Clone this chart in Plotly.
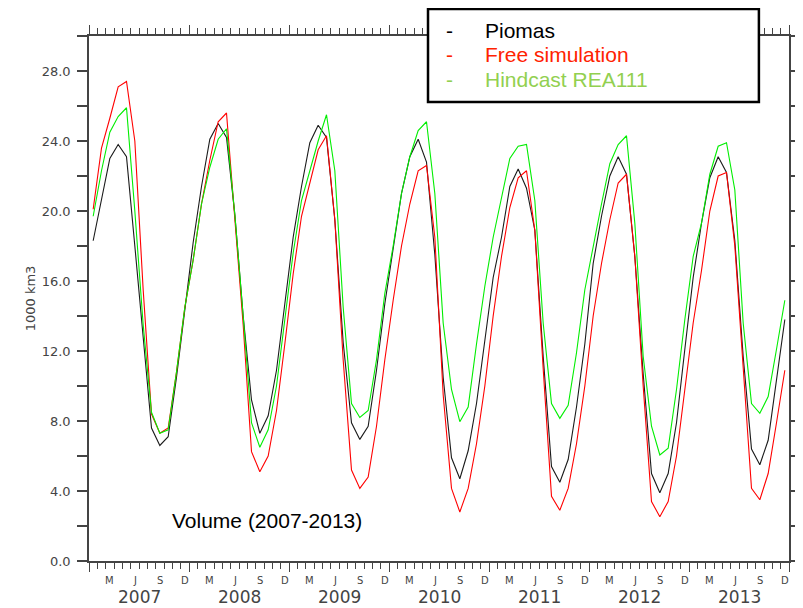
import plotly.graph_objects as go

# ---------------- data (monthly means, Jan 2007 .. Dec 2013), 1000 km3 ----------------
years = ["2007", "2008", "2009", "2010", "2011", "2012", "2013"]
month_letters = ["M", "J", "S", "D"]
y_tick_values = [0, 4, 8, 12, 16, 20, 24, 28]
y_tick_labels = ["0.0", "4.0", "8.0", "12.0", "16.0", "20.0", "24.0", "28.0"]

piomas = [
    18.3, 20.7, 23.0, 23.8, 23.1, 18.0, 13.0, 7.6, 6.6, 7.1, 10.5, 14.3,
    18.2, 21.4, 24.1, 25.0, 24.2, 19.8, 14.0, 9.2, 7.3, 8.3, 10.9, 14.7,
    18.5, 21.4, 23.9, 24.9, 24.2, 19.5, 12.5, 7.9, 6.95, 7.7, 10.9, 14.7,
    18.0, 21.0, 23.1, 24.1, 22.8, 17.5, 10.5, 5.9, 4.7, 6.3, 9.0, 12.6,
    16.2, 18.5, 21.4, 22.4, 21.3, 18.9, 11.7, 5.4, 4.5, 5.8, 8.8, 12.4,
    17.0, 19.7, 22.0, 23.1, 22.1, 17.4, 10.7, 5.0, 3.9, 5.0, 7.9, 12.1,
    16.2, 19.3, 21.9, 23.1, 22.2, 18.3, 11.7, 6.4, 5.5, 6.9, 10.2, 13.8,
]
free_sim = [
    20.1, 23.6, 25.3, 27.1, 27.4, 24.0, 15.5, 8.4, 7.3, 7.6, 10.8, 14.5,
    17.2, 20.4, 22.9, 25.1, 25.6, 19.8, 13.5, 6.25, 5.1, 6.0, 8.6, 12.4,
    16.4, 19.7, 21.6, 23.5, 24.3, 19.5, 11.5, 5.2, 4.15, 4.8, 7.7, 11.5,
    14.9, 18.0, 20.4, 22.3, 22.6, 18.5, 9.5, 4.15, 2.8, 4.15, 6.7, 10.0,
    14.0, 17.4, 20.2, 21.9, 22.3, 18.9, 11.0, 3.7, 2.9, 4.15, 6.7, 10.0,
    14.0, 17.0, 19.5, 21.6, 22.1, 17.4, 10.0, 3.4, 2.53, 3.4, 6.0, 9.8,
    13.6, 16.6, 20.0, 22.0, 22.2, 18.0, 11.0, 4.15, 3.5, 5.0, 7.9, 10.9,
]
hindcast = [
    19.7, 22.3, 24.5, 25.4, 25.9, 20.0, 13.5, 8.5, 7.3, 7.5, 10.8, 14.5,
    17.2, 20.4, 22.5, 24.1, 24.7, 19.8, 14.0, 7.9, 6.5, 7.5, 10.0, 13.8,
    17.6, 20.6, 22.3, 24.0, 25.5, 22.3, 14.5, 9.0, 8.2, 8.6, 11.5, 15.3,
    18.0, 21.0, 23.1, 24.6, 25.1, 21.0, 13.6, 9.8, 7.96, 8.8, 12.4, 15.7,
    18.5, 20.8, 23.0, 23.7, 23.8, 20.6, 13.6, 9.0, 8.15, 8.9, 11.9, 15.5,
    18.0, 20.4, 22.7, 23.8, 24.3, 19.3, 11.7, 7.7, 6.06, 6.44, 9.8, 13.8,
    17.4, 19.3, 22.1, 23.7, 23.9, 21.2, 13.6, 9.0, 8.44, 9.4, 12.1, 14.9,
]
series_names = ["Piomas", "Free simulation", "Hindcast REA111"]

# month axis: month index, values plotted at mid-month
n_months = len(piomas)
x_mid = [i + 0.5 for i in range(n_months)]

line_colors = ["#1a1a1a", "#ff0000", "#00ee00"]
legend_colors = ["#000000", "#ff2200", "#92d050"]

fig = go.Figure()
for name, vals, col in zip(series_names, [piomas, free_sim, hindcast], line_colors):
    fig.add_trace(go.Scatter(x=x_mid, y=vals, mode="lines", name=name,
                             line=dict(color=col, width=1.1), showlegend=False))

axis_col = "#444444"
tick_font = dict(family="DejaVu Sans", size=13, color="#444444")

fig.update_xaxes(
    range=[0, n_months], showgrid=False, zeroline=False, automargin=False,
    showline=True, linecolor=axis_col, linewidth=1.5, mirror="ticks",
    tickvals=list(range(0, n_months + 1, 12)), ticks="outside", ticklen=9,
    tickwidth=1, tickcolor=axis_col, showticklabels=False,
    minor=dict(tickvals=list(range(0, n_months + 1)), ticks="outside",
               ticklen=6, tickwidth=1, tickcolor=axis_col),
)
fig.update_yaxes(
    range=[0, 30], showgrid=False, zeroline=False, automargin=False,
    showline=True, linecolor=axis_col, linewidth=1.5, mirror="ticks",
    tickvals=y_tick_values, ticktext=y_tick_labels, ticks="outside",
    ticklen=10, tickwidth=1.5, tickcolor=axis_col, tickfont=tick_font,
    ticklabelstandoff=4,
    minor=dict(tickvals=[v + 2 for v in y_tick_values], ticks="outside",
               ticklen=10, tickwidth=1.5, tickcolor=axis_col),
    title=dict(text="1000 km3", font=dict(family="DejaVu Sans", size=13, color="#444444"),
               standoff=3),
)

annotations = []
# month letters under the axis
for yi in range(len(years)):
    for k, m in enumerate(month_letters):
        annotations.append(dict(
            x=yi * 12 + 2.5 + 3 * k, y=0, xref="x", yref="paper",
            text=m, showarrow=False, xanchor="center", yanchor="top", yshift=-12,
            font=dict(family="DejaVu Sans", size=10, color="#444444")))
    annotations.append(dict(
        x=yi * 12 + 6, y=0, xref="x", yref="paper", text=years[yi],
        showarrow=False, xanchor="center", yanchor="middle", yshift=-36,
        font=dict(family="DejaVu Sans", size=17, color="#444444")))

# in-plot title
annotations.append(dict(x=0.254, y=0.078, xref="paper", yref="paper",
                        text="Volume (2007-2013)", showarrow=False,
                        xanchor="center", yanchor="middle",
                        font=dict(family="Liberation Sans", size=21, color="#000000")))

# legend box texts
row_y = [1.0114, 0.9648, 0.9171]
for name, col, ry in zip(series_names, legend_colors, row_y):
    annotations.append(dict(x=0.5157, y=ry, xref="paper", yref="paper", text="-",
                            showarrow=False, xanchor="center", yanchor="middle",
                            font=dict(family="Liberation Sans", size=21, color=col)))
    annotations.append(dict(x=0.5629, y=ry, xref="paper", yref="paper", text=name,
                            showarrow=False, xanchor="left", yanchor="middle",
                            font=dict(family="Liberation Sans", size=21, color=col)))

shapes = [dict(type="rect", xref="paper", yref="paper",
               x0=0.4843, x1=0.957, y0=0.8743, y1=1.0514,
               line=dict(color="#000000", width=2.5), fillcolor="white", layer="above")]

# page body has an 8px margin: figure is 795x600, plot area lands at x 89..789, y 36..561
fig.update_layout(
    width=795, height=600,
    margin=dict(l=81, r=14, t=28, b=47),
    paper_bgcolor="white", plot_bgcolor="white",
    annotations=annotations, shapes=shapes,
    showlegend=False,
)

fig.write_html("out.html")
